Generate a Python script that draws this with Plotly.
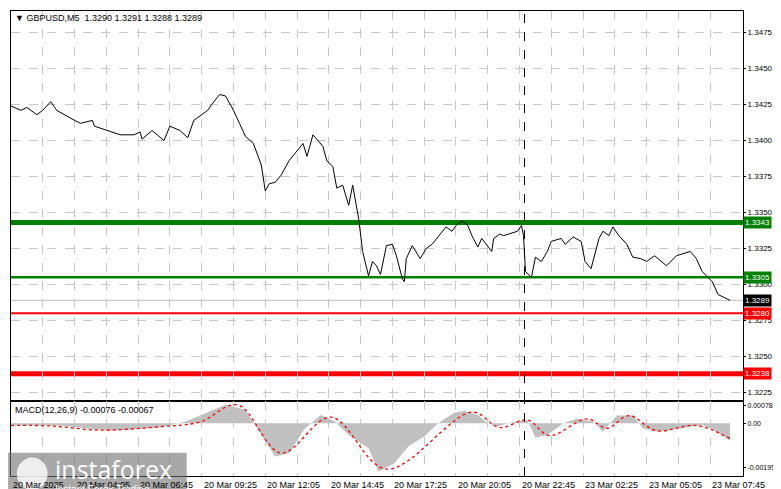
import plotly.graph_objects as go
from plotly.subplots import make_subplots

# price (bar index, close)
price_bar = [0, 5, 8, 13, 16, 20, 23, 28, 32, 35, 41, 42, 48, 55, 62, 65, 66, 71, 77, 80,
             85, 89, 92, 96, 99, 101, 105, 108, 112, 115, 118, 122, 126, 128, 130, 133, 136,
             140, 143, 147, 149, 152, 157, 159, 162, 164, 167, 170, 172, 175, 177, 180, 182,
             184, 186, 189, 192, 194, 197, 198, 199, 202, 206, 209, 212, 216, 219, 222, 224,
             227, 230, 232, 235, 237, 242, 243, 246, 248, 255, 257, 258, 259, 262, 264, 267,
             270, 272, 277, 279, 283, 287, 289, 292, 296, 298, 301, 303, 306, 310, 313, 317,
             320, 324, 330, 335, 342, 345, 348, 353, 356, 362]
price = [1.3424, 1.3421, 1.3423, 1.3418, 1.3421, 1.3427, 1.3421, 1.3417, 1.3414, 1.3412,
         1.3414, 1.3410, 1.3407, 1.3404, 1.3404, 1.3406, 1.3401, 1.3407, 1.3400, 1.3410,
         1.3407, 1.3402, 1.3414, 1.3418, 1.3421, 1.3425, 1.3432, 1.3431, 1.3421, 1.3412,
         1.3403, 1.3398, 1.3383, 1.3365, 1.3370, 1.3371, 1.3376, 1.3386, 1.3391, 1.3398,
         1.3389, 1.3404, 1.3396, 1.3386, 1.3382, 1.3367, 1.3369, 1.3355, 1.3369, 1.3346,
         1.3323, 1.3306, 1.3316, 1.3313, 1.3307, 1.3327, 1.3328, 1.3320, 1.3304, 1.3302,
         1.3318, 1.3327, 1.3318, 1.3325, 1.3328, 1.3335, 1.3340, 1.3337, 1.3341, 1.3344,
         1.3341, 1.3334, 1.3326, 1.3332, 1.3323, 1.3332, 1.3335, 1.3334, 1.3337, 1.3341,
         1.3334, 1.3309, 1.3305, 1.3319, 1.3316, 1.3323, 1.3330, 1.3332, 1.3328, 1.3333,
         1.3330, 1.3316, 1.3311, 1.3332, 1.3337, 1.3334, 1.3340, 1.3334, 1.3328, 1.3319,
         1.3318, 1.3316, 1.3320, 1.3313, 1.3320, 1.3323, 1.3318, 1.3309, 1.3302, 1.3293,
         1.3289]

macd_bar = [0, 25, 50, 75, 88, 100, 108, 118, 125, 133, 140, 148, 156, 163, 170, 180, 185,
            193, 200, 208, 215, 223, 228, 235, 240, 245, 250, 260, 264, 270, 278, 285, 293,
            298, 305, 313, 318, 325, 338, 348, 355, 362]
macd = [-0.00007, -0.0001, -0.00033, -0.00019, 0.00007, 0.00051, 0.0008, 0.00058, -0.00036,
        -0.00145, -0.0013, -0.00022, 0.00036, 0.00007, -0.00051, -0.00109, -0.0021, -0.00174,
        -0.00101, -0.00058, 0.0, 0.00044, 0.00054, 0.00036, 0.0, -0.00014, 0.0, 0.00014,
        -0.00062, -0.00051, 0.0, 0.00019, 0.00007, -0.00036, 0.00033, 0.00033, -0.00022,
        -0.00036, -0.00022, -0.00007, -0.00036, -0.00076]
signal_bar = [0, 20, 45, 75, 95, 114, 136, 161, 189, 232, 246, 260, 271, 290, 300, 311, 325,
              345, 362]
signal = [-0.0001, -0.00012, -0.0003, -0.00015, 0.00005, 0.0008, -0.0013, 0.00026, -0.002,
          0.00048, -0.00019, 0.00014, -0.00054, 0.00019, -0.00022, 0.00033, -0.00033,
          -0.0001, -0.00067]

levels = [1.3343, 1.3305, 1.3280, 1.3238]
level_colors = ["#008000", "#008000", "#ff0000", "#ff0000"]
level_widths = [5, 2.5, 2, 5]
last_price = 1.3289

tick_bars = [0, 32, 64, 96, 128, 160, 192, 224, 256, 288, 320, 352]
tick_text = ["20 Mar 2025", "20 Mar 04:05", "20 Mar 06:45", "20 Mar 09:25", "20 Mar 12:05",
             "20 Mar 14:45", "20 Mar 17:25", "20 Mar 20:05", "20 Mar 22:45", "23 Mar 02:25",
             "23 Mar 05:05", "23 Mar 07:45"]
price_ticks = [1.3225, 1.3250, 1.3275, 1.3300, 1.3325, 1.3350, 1.3375, 1.3400, 1.3425,
               1.3450, 1.3475]

FONT = "Liberation Sans"
fig = make_subplots(rows=2, cols=1, shared_xaxes=True, vertical_spacing=0.0,
                    row_heights=[0.839, 0.161])

fig.add_trace(go.Scatter(x=price_bar, y=price, mode="lines",
                         line=dict(color="black", width=1)), row=1, col=1)
fig.add_trace(go.Scatter(x=macd_bar, y=macd, mode="lines", line=dict(width=0),
                         fill="tozeroy", fillcolor="#c0c0c0", hoverinfo="skip"), row=2, col=1)
fig.add_trace(go.Scatter(x=signal_bar, y=signal, mode="lines", line_shape="spline",
                         line=dict(color="#ff0000", width=1.3, dash="dot")), row=2, col=1)

# watermark box
fig.add_shape(type="rect", xref="paper", yref="paper", x0=-0.004, x1=0.24, y0=-0.047,
              y1=0.05, fillcolor="rgba(110,110,110,0.6)", line_width=0, layer="above")
fig.add_shape(type="circle", xref="paper", yref="paper", x0=0.008, x1=0.05, y0=-0.03,
              y1=0.04, fillcolor="rgba(255,255,255,0.8)", line_width=0, layer="above")

fig.add_hline(y=last_price, line=dict(color="#c0c0c0", width=1), layer="below", row=1, col=1)
for lv, c, w in zip(levels, level_colors, level_widths):
    fig.add_hline(y=lv, line=dict(color=c, width=w), layer="below", row=1, col=1)

# dashed period separator
fig.add_vline(x=258.5, line=dict(color="black", width=1, dash="dash"))

grid = dict(showgrid=True, gridcolor="#c8c8c8", griddash="dash", gridwidth=1)
fig.update_xaxes(range=[0, 368.5], dtick=16, tick0=0, showticklabels=False, ticks="",
                 showline=True, linecolor="black", mirror=True, zeroline=False, **grid)
fig.update_yaxes(side="right", showline=True, linecolor="black", mirror=True, ticks="outside",
                 ticklen=2, tickcolor="black", zeroline=False,
                 tickfont=dict(family=FONT, size=8, color="black"))
fig.update_yaxes(range=[1.3219, 1.3490], tickvals=price_ticks, tickformat=".4f",
                 row=1, col=1, **grid)
fig.update_yaxes(range=[-0.0023, 0.00096], tickvals=[-0.00195, 0, 0.00078],
                 ticktext=["-0.00195", "0.00", "0.00078"], showgrid=False,
                 tickfont=dict(family=FONT, size=7, color="black"), row=2, col=1)

anns = []
for b, t in zip(tick_bars, tick_text):
    anns.append(dict(x=b, y=0, xref="x2", yref="paper", yshift=-2, text=t, showarrow=False,
                     xanchor="left", yanchor="top",
                     font=dict(family=FONT, size=9, color="black")))
for lv, c in zip(levels + [last_price], level_colors + ["#000000"]):
    anns.append(dict(x=1, y=lv, xref="paper", yref="y", text=f"{lv:.4f}", showarrow=False,
                     xanchor="left", yanchor="middle", bgcolor=c, borderpad=1,
                     font=dict(family=FONT, size=8, color="white")))
anns.append(dict(x=0.003, y=1, xref="paper", yref="paper",
                 text="▼ GBPUSD,M5  1.3290 1.3291 1.3288 1.3289",
                 showarrow=False, xanchor="left", yanchor="top",
                 font=dict(family=FONT, size=9, color="black")))
anns.append(dict(x=0.003, y=0.158, xref="paper", yref="paper",
                 text="MACD(12,26,9) -0.00076 -0.00067",
                 showarrow=False, xanchor="left", yanchor="top",
                 font=dict(family=FONT, size=9, color="black")))
anns.append(dict(x=0.058, y=0.015, xref="paper", yref="paper", text="instaforex",
                 showarrow=False, xanchor="left", yanchor="middle",
                 font=dict(family="Open Sans", size=25, color="white")))
anns.append(dict(x=0.058, y=-0.028, xref="paper", yref="paper", text="Instant Forex Trading",
                 showarrow=False, xanchor="left", yanchor="middle",
                 font=dict(family=FONT, size=10, color="white")))

fig.update_layout(
    width=781, height=489, margin=dict(l=3, r=46, t=3, b=21),
    paper_bgcolor="white", plot_bgcolor="white", showlegend=False,
    annotations=anns,
)

fig.write_html("out.html")
